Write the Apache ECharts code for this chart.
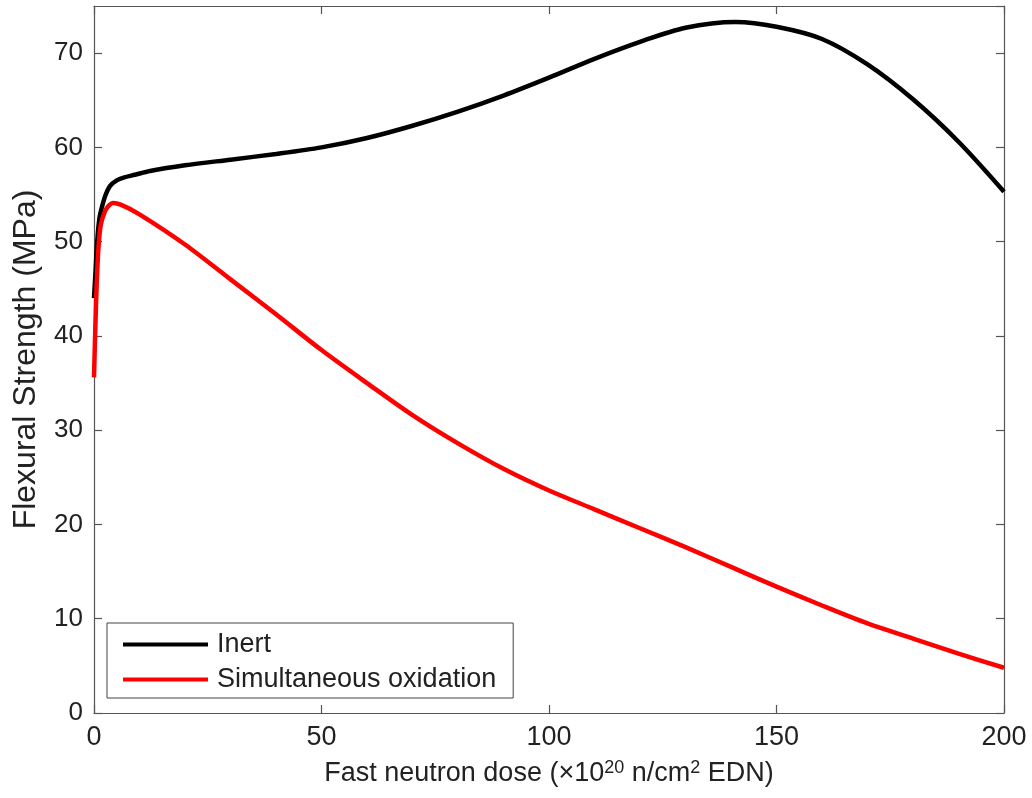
<!DOCTYPE html>
<html>
<head>
<meta charset="utf-8">
<title>Flexural strength vs fast neutron dose</title>
<script src="https://cdn.jsdelivr.net/npm/echarts@6/dist/echarts.min.js"></script>
<style>
  html, body { margin: 0; padding: 0; background: #fff; }
  #chart { width: 1032px; height: 798px; }
</style>
</head>
<body>
<div id="chart"></div>
<script>
// dose values (x10^20 n/cm2 EDN) and strength (MPa)
var inertDose = [0, 0.3, 0.7, 1.2, 1.7, 2.5, 3.5, 5, 6.5, 9, 12.3, 20, 30, 40, 50, 60, 70, 80, 90, 100, 110, 120, 130, 141, 150, 160, 170, 180, 190, 200]
var inertStrength = [44, 46.5, 50, 52.5, 53.6, 54.9, 55.9, 56.5, 56.8, 57.1, 57.5, 58.1, 58.7, 59.3, 60.0, 61.0, 62.3, 63.8, 65.5, 67.4, 69.4, 71.2, 72.7, 73.3, 72.8, 71.5, 68.8, 65.1, 60.6, 55.3]

var oxDose = [0, 0.3, 0.6, 1, 1.5, 2.4, 3.2, 4.2, 6, 10, 20, 30, 40, 50, 60, 70, 80, 90, 100, 110, 120, 130, 140, 150, 160, 170, 180, 190, 200]
var oxStrength = [35.6, 41, 45.6, 49.5, 51.8, 53.2, 53.8, 54.1, 53.9, 52.9, 49.7, 46.0, 42.3, 38.5, 35.0, 31.6, 28.6, 25.9, 23.6, 21.6, 19.6, 17.6, 15.5, 13.4, 11.4, 9.5, 7.9, 6.3, 4.8]

var seriesNames = ['Inert', 'Simultaneous oxidation']

function pairs (xs, ys) {
  return xs.map(function (x, i) { return [x, ys[i]] })
}

var font = 'Liberation Sans, Arial, Helvetica, sans-serif'
var boxColor = '#555'
var textColor = '#222'

var myChart = echarts.init(document.getElementById('chart'))

// axis with inside ticks, used for all four sides of the box
function boxAxis (extra) {
  var a = {
    type: 'value',
    axisLine: { show: true, onZero: false, lineStyle: { color: boxColor, width: 1.2 } },
    axisTick: { show: true, inside: true, length: 8, lineStyle: { color: boxColor, width: 1.2 } },
    splitLine: { show: false },
    axisLabel: { show: false }
  }
  return Object.assign(a, extra)
}

myChart.setOption({
  backgroundColor: '#fff',
  animation: false,
  grid: { left: 94, right: 28, top: 6, bottom: 85 },
  legend: {
    orient: 'vertical',
    left: 107,
    top: 623,
    data: seriesNames.map(function (n) { return { name: n, icon: 'rect' } }),
    itemWidth: 85,
    itemHeight: 4,
    itemGap: 8,
    padding: [8, 17, 5, 16],
    borderColor: '#444',
    borderWidth: 1,
    backgroundColor: '#fff',
    textStyle: { fontFamily: font, fontSize: 27, color: textColor, padding: [0, 0, 0, 4] }
  },
  xAxis: [
    boxAxis({
      position: 'bottom',
      min: 0, max: 200, interval: 50,
      axisLabel: { show: true, fontFamily: font, fontSize: 27, color: textColor, margin: 11 },
      name: '{t|Fast neutron dose (\u00d710}{s|20}{t| n/cm}{s|2}{t| EDN)}',
      nameLocation: 'middle',
      nameGap: 46,
      nameTextStyle: {
        rich: {
          t: { fontFamily: font, fontSize: 27, color: textColor },
          s: { fontFamily: font, fontSize: 18, color: textColor, verticalAlign: 'bottom', padding: [0, 0, 12, 0] }
        }
      }
    }),
    boxAxis({ position: 'top', min: 0, max: 200, interval: 50 })
  ],
  yAxis: [
    boxAxis({
      position: 'left',
      min: 0, max: 75, interval: 10,
      axisLabel: { show: true, showMaxLabel: false, fontFamily: font, fontSize: 26, color: textColor, margin: 11 },
      name: 'Flexural Strength (MPa)',
      nameLocation: 'middle',
      nameGap: 52,
      nameTextStyle: { fontFamily: font, fontSize: 32, color: textColor }
    }),
    boxAxis({ position: 'right', min: 0, max: 75, interval: 10 })
  ],
  series: [
    {
      name: seriesNames[0],
      type: 'line',
      data: pairs(inertDose, inertStrength),
      showSymbol: false,
      smooth: 0.3,
      itemStyle: { color: '#000' },
      lineStyle: { color: '#000', width: 4.5 }
    },
    {
      name: seriesNames[1],
      type: 'line',
      data: pairs(oxDose, oxStrength),
      showSymbol: false,
      smooth: 0.3,
      itemStyle: { color: '#ff0000' },
      lineStyle: { color: '#ff0000', width: 4.5 }
    }
  ]
})
</script>
</body>
</html>
